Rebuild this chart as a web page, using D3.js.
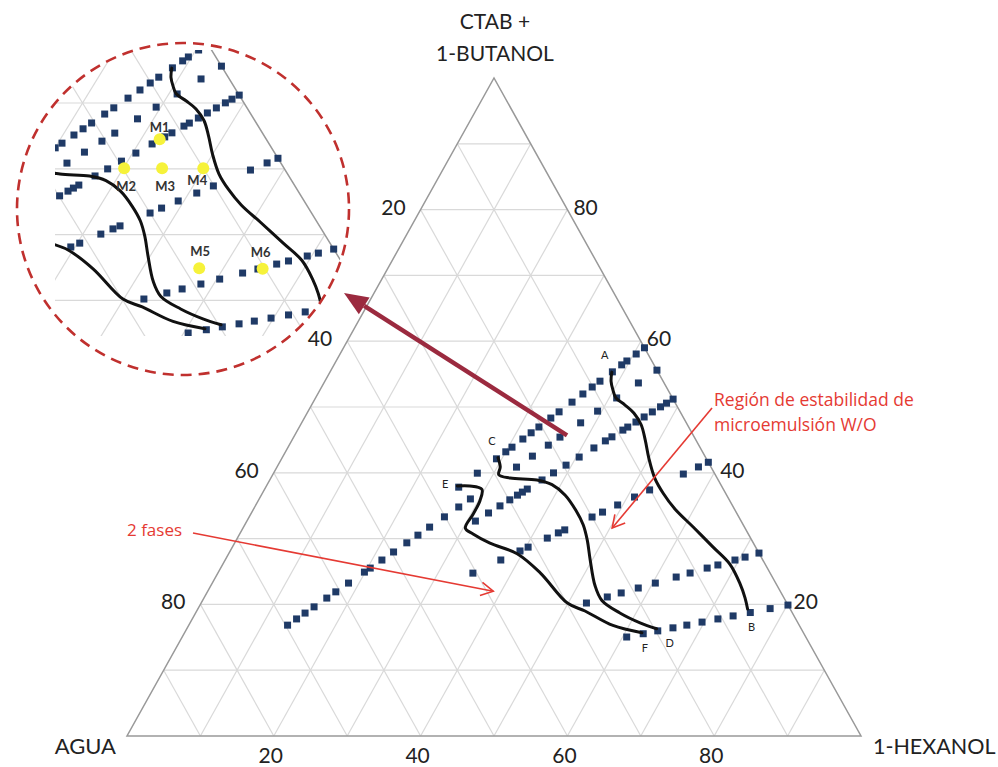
<!DOCTYPE html>
<html>
<head>
<meta charset="utf-8">
<script src="https://cdn.jsdelivr.net/npm/d3@7"></script>
<style>
  html, body { margin: 0; padding: 0; background: #fff; }
  svg { display: block; font-family: Lato, "Open Sans", sans-serif; }
</style>
</head>
<body>
<svg id="chart" width="998" height="767"></svg>
<script>
// ---- Vertex and axis labels ----
const vertexTop = ["CTAB +", "1-BUTANOL"];
const vertexLeft = "AGUA";
const vertexRight = "1-HEXANOL";
const tickValues = [20, 40, 60, 80];
const gridSteps = [10, 20, 30, 40, 50, 60, 70, 80, 90];

// ---- Dilution lines ----
// CTAB+butanol share (%) of each water-free starting mixture
const dilutionStart = [59.0, 55.6, 51.2, 41.6, 27.8, 19.9];
// water content (%) of every titration sample along each line
const water1 = [0, 1.6, 3.4, 4.4, 6.2, 8.6, 10.1, 11.9, 14.0, 16.5, 18.1, 20.4, 21.9, 23.5, 25.6, 26.8, 28.6, 32.3, 35.9];
const water2 = [0, 3.5, 7.6, 11.2, 14.4, 18.3, 20.5, 23.5, 26.5, 35.2, 37.4, 40.1, 42.9, 45.1, 47.2, 49.7, 51.9, 54.1, 55.2, 58.2, 60.6, 62.3, 64.7, 66.4, 68.0, 69.7];
const water3 = [0, 1.2, 2.3, 3.8, 5.3, 6.8, 8.3, 9.2, 11.2, 12.4, 14.5, 17.2, 19.6, 21.9, 24.0, 26.7, 27.6, 28.5, 29.9, 31.7, 33.8, 36.2];
const water4 = [0, 1.7, 4.3, 10.1, 12.7, 15.6, 18.2, 20.0, 24.7, 25.8, 27.7, 31.0, 32.4, 35.7, 40.5];
const water5 = [0, 2.2, 3.8, 6.5, 8.2, 10.9, 13.1, 16.4, 19.1, 21.8, 24.0, 27.3];
const water6 = [0, 2.7, 5.7, 8.3, 10.6, 13.0, 15.3, 17.4, 19.7, 21.9, 24.4];
const waterSeries = [water1, water2, water3, water4, water5, water6];

// ---- Phase boundaries, points as [agua, hexanol, ctab+butanol] (%) ----
const boundaryAB = [[6.3,38.4,55.3],[7.1,39.0,53.9],[7.5,39.9,52.6],[7.7,40.9,51.4],[7.0,42.7,50.3],[6.4,44.5,49.1],[6.3,46.4,47.3],[6.9,48.1,45.0],[7.8,50.0,42.2],[8.5,52.3,39.2],[8.5,54.6,36.9],[8.1,57.4,34.5],[7.0,61.2,31.8],[5.8,65.5,28.7],[4.8,69.1,26.1],[4.9,71.9,23.2],[5.3,73.7,21.0],[5.8,74.9,19.3]];
const boundaryCD = [[28.3,29.4,42.3],[28.7,30.4,40.9],[29.5,30.8,39.7],[28.2,32.6,39.2],[24.7,36.4,38.9],[23.0,38.8,38.2],[22.0,41.4,36.6],[21.7,44.0,34.3],[21.8,46.1,32.1],[22.4,47.8,29.8],[23.5,49.7,26.8],[24.8,52.3,22.9],[25.0,54.4,20.6],[23.5,57.8,18.7],[21.5,61.3,17.2],[19.7,64.0,16.3]];
const boundaryEF = [[36.0,26.0,38.0],[34.3,27.7,38.0],[32.9,29.6,37.5],[34.0,30.2,35.8],[36.0,30.3,33.7],[38.1,30.3,31.6],[37.5,31.8,30.7],[35.9,34.8,29.3],[33.0,39.3,27.7],[31.3,43.9,24.8],[29.9,49.9,20.2],[28.1,52.9,19.0],[25.4,57.8,16.8],[22.0,62.3,15.7]];
const boundaries = [boundaryAB, boundaryCD, boundaryEF];
const boundaryEndNames = [["A", "B"], ["C", "D"], ["E", "F"]];

// ---- Formulated samples shown in the detail view ----
const sampleNames = ["M1", "M2", "M3", "M4", "M5", "M6"];
const samples = [[13.2,42.3,44.5],[19.8,40.1,40.1],[15.1,44.8,40.1],[10.0,49.9,40.1],[18.1,57.0,24.9],[10.3,64.9,24.8]];

// ---- Annotations ----
const noteStable = ["Región de estabilidad de", "microemulsión W/O"];
const noteTwoPhase = "2 fases";
const stableTip = [18.1, 50.3, 31.6];
const twoPhaseTip = [39.1, 38.9, 22.0];
const zoomTail = [17.2, 37.1, 45.7];

// ---------------------------------------------------------------
const svg = d3.select("#chart");
const font = "Lato, 'Open Sans', sans-serif";
const noteFont = "'Open Sans', Lato, sans-serif";

// main projection: x from (hexanol + ctab/2), y from ctab
const xMain = d3.scaleLinear().domain([0, 100]).range([127, 861]);
const yMain = d3.scaleLinear().domain([0, 100]).range([736, 78]);
// detail view: same diagram shifted into the circle, slightly widened
const xDetail = d3.scaleLinear().domain([0, 100]).range([1.1 * 127 - 501.2, 1.1 * 861 - 501.2]);
const yDetail = d3.scaleLinear().domain([0, 100]).range([736 - 304, 78 - 304]);

function projector(xs, ys) {
  return p => [xs(p[1] + p[2] / 2), ys(p[2])];
}
const pMain = projector(xMain, yMain);
const pDetail = projector(xDetail, yDetail);

function gridSegments() {
  const segs = [];
  gridSteps.forEach(k => {
    segs.push([[100 - k, 0, k], [0, 100 - k, k]]);       // constant ctab
    segs.push([[100 - k, k, 0], [0, k, 100 - k]]);       // constant hexanol
    segs.push([[k, 100 - k, 0], [k, 0, 100 - k]]);       // constant water
  });
  return segs;
}
const frame = [[100, 0, 0], [0, 100, 0], [0, 0, 100]];

function dilutionPoints() {
  const pts = [];
  dilutionStart.forEach((r, i) => {
    waterSeries[i].forEach(w => {
      const f = 1 - w / 100;
      pts.push([w, (100 - r) * f, r * f]);
    });
  });
  return pts;
}

function drawDiagram(g, proj) {
  const line = d3.line();
  g.append("g").selectAll("path").data(gridSegments()).join("path")
    .attr("d", s => line(s.map(proj)))
    .attr("fill", "none").attr("stroke", "#d9d9d9").attr("stroke-width", 1.2);
  g.append("path")
    .attr("d", line(frame.map(proj)) + "Z")
    .attr("fill", "none").attr("stroke", "#999").attr("stroke-width", 1.5);

  const sq = 7;
  g.append("g").selectAll("rect").data(dilutionPoints()).join("rect")
    .attr("x", d => proj(d)[0] - sq / 2).attr("y", d => proj(d)[1] - sq / 2)
    .attr("width", sq).attr("height", sq).attr("fill", "#1f3a66");

  const curve = d3.line().curve(d3.curveCatmullRom.alpha(0.5));
  g.append("g").selectAll("path").data(boundaries).join("path")
    .attr("d", b => curve(b.map(proj)))
    .attr("fill", "none").attr("stroke", "#111").attr("stroke-width", 3)
    .attr("stroke-linecap", "round").attr("stroke-linejoin", "round");
}

// ---- main diagram ----
const main = svg.append("g");
drawDiagram(main, pMain);

// end-point letters of the boundaries
const endOffsets = { A: [-7, -13], B: [4, 22], C: [-6, -13], D: [13, 18], E: [-12, 2], F: [3, 19] };
boundaries.forEach((b, i) => {
  [b[0], b[b.length - 1]].forEach((p, j) => {
    const name = boundaryEndNames[i][j];
    const [x, y] = pMain(p);
    main.append("text").text(name)
      .attr("x", x + endOffsets[name][0]).attr("y", y + endOffsets[name][1])
      .attr("text-anchor", "middle").attr("font-size", 11).attr("fill", "#222")
      .attr("font-family", font);
  });
});

// ---- tick labels ----
const tickFont = 21;
tickValues.forEach(v => {
  const [lx, ly] = pMain([v, 0, 100 - v]);   // left edge: water
  svg.append("text").text(v).attr("x", lx - 15).attr("y", ly + 5)
    .attr("text-anchor", "end").attr("font-size", tickFont).attr("fill", "#222");
  const [rx, ry] = pMain([0, 100 - v, v]);   // right edge: ctab
  svg.append("text").text(v).attr("x", rx + 6).attr("y", ry + 5)
    .attr("text-anchor", "start").attr("font-size", tickFont).attr("fill", "#222");
  const [bx, by] = pMain([100 - v, v, 0]);   // base: hexanol
  svg.append("text").text(v).attr("x", bx - 3).attr("y", by + 27)
    .attr("text-anchor", "middle").attr("font-size", tickFont).attr("fill", "#222");
});

// ---- vertex labels ----
const [tx, ty] = pMain([0, 0, 100]);
vertexTop.forEach((t, i) => {
  svg.append("text").text(t).attr("x", tx + 1).attr("y", ty - 49 + i * 32)
    .attr("text-anchor", "middle").attr("font-size", 21).attr("fill", "#222");
});
const [ax, ay] = pMain([100, 0, 0]);
svg.append("text").text(vertexLeft).attr("x", ax - 11).attr("y", ay + 18)
  .attr("text-anchor", "end").attr("font-size", 22).attr("fill", "#222");
const [hx, hy] = pMain([0, 100, 0]);
svg.append("text").text(vertexRight).attr("x", hx + 12).attr("y", hy + 18)
  .attr("text-anchor", "start").attr("font-size", 21.5).attr("fill", "#222");

// ---- detail circle ----
const cx = 183, cy = 209, cr = 166;
const defs = svg.append("defs");
defs.append("clipPath").attr("id", "detailCircle")
  .append("circle").attr("cx", cx).attr("cy", cy).attr("r", cr - 1);
defs.append("clipPath").attr("id", "detailRect")
  .append("rect").attr("x", 55).attr("y", 50).attr("width", 300).attr("height", 286);

svg.append("circle").attr("cx", cx).attr("cy", cy).attr("r", cr).attr("fill", "#fff");
const detail = svg.append("g").attr("clip-path", "url(#detailCircle)")
  .append("g").attr("clip-path", "url(#detailRect)");
drawDiagram(detail, pDetail);

detail.append("g").selectAll("circle").data(samples).join("circle")
  .attr("cx", d => pDetail(d)[0]).attr("cy", d => pDetail(d)[1])
  .attr("r", 6).attr("fill", "#f6f23a");
const sampleOffsets = { M1: [0, -7], M2: [2, 23], M3: [3, 23], M4: [-6, 17], M5: [1, -12], M6: [-2, -12] };
samples.forEach((d, i) => {
  const [x, y] = pDetail(d);
  const n = sampleNames[i];
  detail.append("text").text(n)
    .attr("x", x + sampleOffsets[n][0]).attr("y", y + sampleOffsets[n][1])
    .attr("text-anchor", "middle").attr("font-size", 13).attr("font-weight", "bold")
    .attr("fill", "#333");
});

svg.append("circle").attr("cx", cx).attr("cy", cy).attr("r", cr)
  .attr("fill", "none").attr("stroke", "#c0302e").attr("stroke-width", 2.6)
  .attr("stroke-dasharray", "11,7");

// ---- arrows ----
function chevronArrow(sx, sy, ex, ey, color, width) {
  const g = svg.append("g");
  g.append("line").attr("x1", sx).attr("y1", sy).attr("x2", ex).attr("y2", ey)
    .attr("stroke", color).attr("stroke-width", width);
  const th = Math.atan2(ey - sy, ex - sx), L = 14, a = 0.5;
  const p1 = [ex - L * Math.cos(th - a), ey - L * Math.sin(th - a)];
  const p2 = [ex - L * Math.cos(th + a), ey - L * Math.sin(th + a)];
  g.append("path").attr("d", d3.line()([p1, [ex, ey], p2]))
    .attr("fill", "none").attr("stroke", color).attr("stroke-width", width);
}
const red = "#e53a33";
const [stX, stY] = pMain(stableTip);
chevronArrow(712, 408, stX, stY, red, 1.6);
const [tpX, tpY] = pMain(twoPhaseTip);
chevronArrow(193, 533, tpX, tpY, red, 1.6);

// arrow linking the detail view to the region it enlarges
const [zx, zy] = pMain(zoomTail);
const zex = 344, zey = 293;
const zth = Math.atan2(zey - zy, zex - zx), zL = 24, zW = 10;
const zbx = zex - zL * Math.cos(zth), zby = zey - zL * Math.sin(zth);
svg.append("line").attr("x1", zx).attr("y1", zy).attr("x2", zbx).attr("y2", zby)
  .attr("stroke", "#9b2a3f").attr("stroke-width", 4.5);
svg.append("path").attr("d", d3.line()([
  [zex, zey],
  [zbx + zW * Math.sin(zth), zby - zW * Math.cos(zth)],
  [zbx - zW * Math.sin(zth), zby + zW * Math.cos(zth)]
]) + "Z").attr("fill", "#9b2a3f");

// ---- annotation text ----
noteStable.forEach((t, i) => {
  svg.append("text").text(t).attr("x", 714).attr("y", 406 + i * 25)
    .attr("font-family", noteFont).attr("font-size", 17.5).attr("fill", red);
});
svg.append("text").text(noteTwoPhase).attr("x", 127).attr("y", 536)
  .attr("font-family", noteFont).attr("font-size", 17).attr("fill", red);
</script>
</body>
</html>
